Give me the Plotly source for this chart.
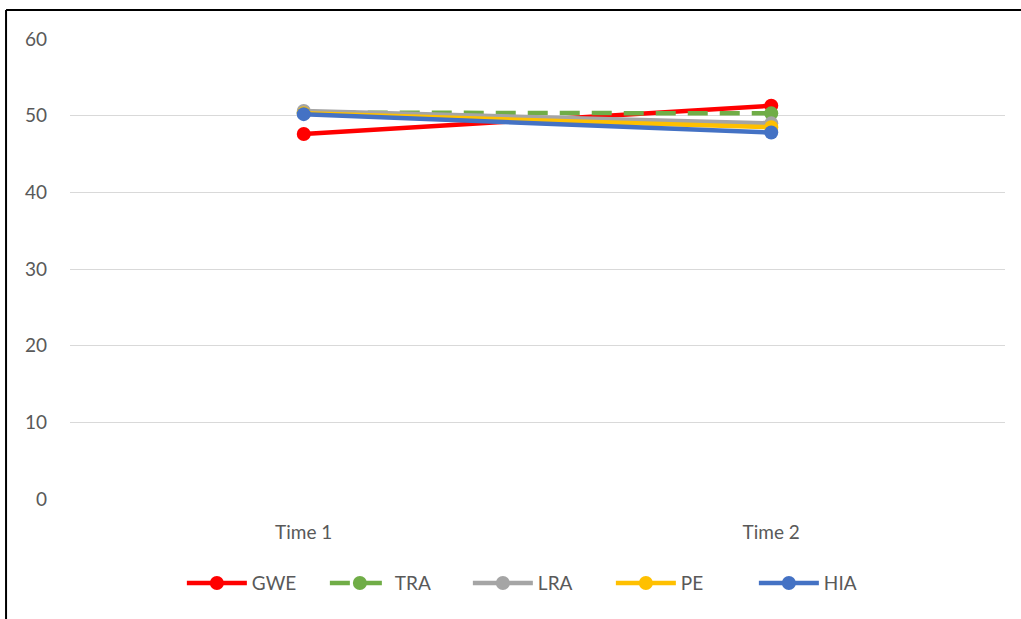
import plotly.graph_objects as go

categories = ["Time 1", "Time 2"]
series_names = ["GWE", "TRA", "LRA", "PE", "HIA"]
gwe = [47.6, 51.3]
tra = [50.4, 50.3]
lra = [50.6, 49.0]
pe = [50.3, 48.5]
hia = [50.2, 47.8]
y_ticks = [0, 10, 20, 30, 40, 50, 60]

colors = ["#FF0000", "#70AD47", "#A5A5A5", "#FFC000", "#4472C4"]
dashes = ["solid", "20px,12px", "solid", "solid", "solid"]
values = [gwe, tra, lra, pe, hia]

fig = go.Figure()
for name, vals, col, dash in zip(series_names, values, colors, dashes):
    fig.add_trace(go.Scatter(
        x=categories, y=vals, name=name, mode="lines+markers",
        line=dict(color=col, width=4.5, dash=dash),
        marker=dict(color=col, size=14),
    ))

font_family = "Lato, 'Open Sans', sans-serif"
fig.update_layout(
    width=1021, height=619,
    margin=dict(l=70, r=16, t=39, b=120),
    plot_bgcolor="white", paper_bgcolor="white",
    font=dict(family=font_family, size=19, color="#595959"),
    showlegend=True,
    legend=dict(orientation="h", x=0.502, xanchor="center", y=-0.183, yanchor="middle",
                font=dict(size=19, color="#595959"), itemwidth=60,
                entrywidth=68, tracegroupgap=0),
    xaxis=dict(range=[-0.5, 1.5], showgrid=False, showline=False, ticks="",
               tickfont=dict(size=19, color="#595959"), fixedrange=True,
               ticklabelstandoff=20),
    yaxis=dict(range=[0, 60], tickvals=y_ticks, showgrid=True, gridcolor="#D9D9D9",
               gridwidth=1, zeroline=False, showline=False, ticks="",
               tickfont=dict(size=19, color="#595959"), ticklabelstandoff=22),
    shapes=[
        dict(type="line", xref="paper", yref="paper", x0=-0.0684, x1=1.03, y0=1.063, y1=1.063,
             line=dict(color="black", width=2)),
        dict(type="line", xref="paper", yref="paper", x0=-0.0684, x1=-0.0684, y0=1.063, y1=-0.3,
             line=dict(color="black", width=2)),
    ],
)

fig.write_html("out.html")
